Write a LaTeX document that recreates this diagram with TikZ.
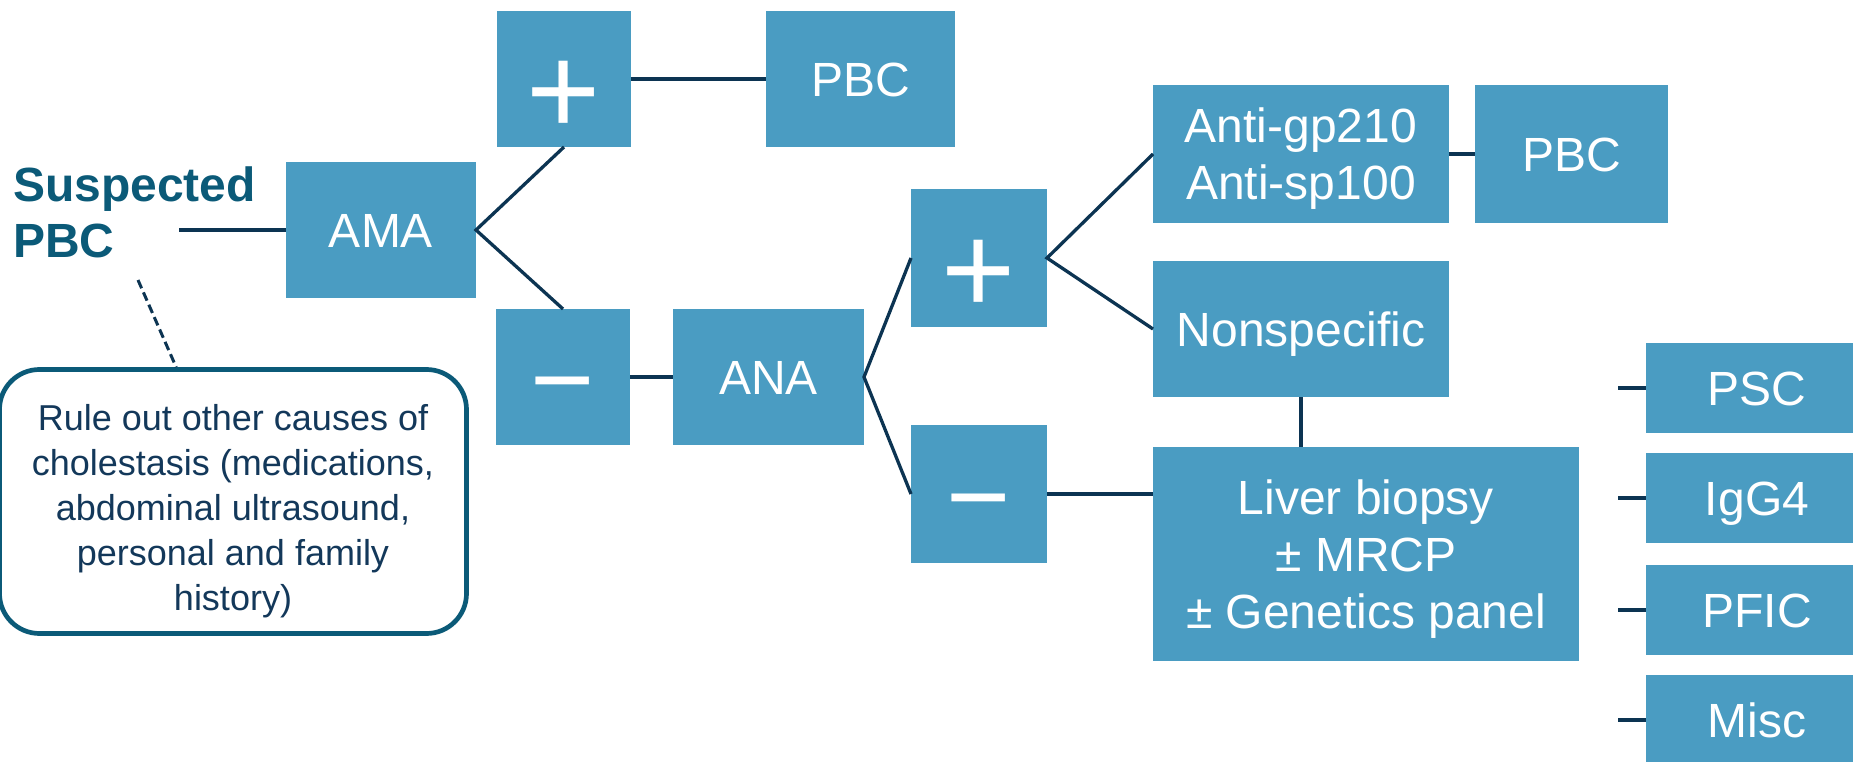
\documentclass[tikz,border=0pt]{standalone}
\usepackage{fontspec}
\setmainfont{Liberation Sans}
\usetikzlibrary{calc}
\definecolor{boxblue}{HTML}{4A9CC2}
\definecolor{linenavy}{HTML}{0C3452}
\definecolor{tealdark}{HTML}{0B5A78}
\definecolor{textnavy}{HTML}{13385A}
\begin{document}
\begin{tikzpicture}[x=1pt,y=-1pt,
  box/.style={fill=boxblue, draw=none, inner sep=0pt, outer sep=0pt, text=white,
    font=\fontsize{48}{57}\selectfont, align=center, text height=34.4pt, text depth=0pt},
  plusbox/.style={fill=boxblue, inner sep=0pt, outer sep=0pt, text=white,
    font=\fontsize{127}{127}\selectfont, text height=111.4pt, text depth=0pt},
  minusbox/.style={fill=boxblue, inner sep=0pt, outer sep=0pt, text=white,
    font=\fontsize{110}{110}\selectfont, text height=80pt, text depth=0pt},
  conn/.style={draw=linenavy, line width=3.3pt},
]
\useasboundingbox (0,0) rectangle (1853,762);

% boxes
\node[box, minimum width=190pt, minimum height=136pt] (ama) at (381,230) {AMA};
\node[plusbox, minimum width=134pt, minimum height=136pt] (plus1) at (564,79) {+};
\node[box, minimum width=189pt, minimum height=136pt] (pbc1) at (860.5,79) {PBC};
\node[minusbox, minimum width=134pt, minimum height=136pt] (minus1) at (563,377) {−};
\node[box, minimum width=191pt, minimum height=136pt] (ana) at (768.5,377) {ANA};
\node[plusbox, minimum width=136pt, minimum height=138pt] (plus2) at (979,258) {+};
\node[minusbox, minimum width=136pt, minimum height=138pt] (minus2) at (979,494) {−};
\node[box, minimum width=296pt, minimum height=138pt, text height=91.4pt] (anti) at (1301,154) {Anti-gp210\\Anti-sp100};
\node[box, minimum width=193pt, minimum height=138pt] (pbc2) at (1571.5,154) {PBC};
\node[box, minimum width=296pt, minimum height=136pt] (nonspec) at (1301,329) {Nonspecific};
\node[box, minimum width=426pt, minimum height=214pt, text height=148.4pt] (liver) at (1366,554) {Liver biopsy\\± MRCP\\± Genetics panel};
\node[box, minimum width=222pt, minimum height=90pt] (psc) at (1757,388) {PSC};
\node[box, minimum width=222pt, minimum height=90pt] (igg4) at (1757,498) {IgG4};
\node[box, minimum width=222pt, minimum height=90pt] (pfic) at (1757,610) {PFIC};
\node[box, minimum width=222pt, minimum height=90pt] (misc) at (1757,720) {Misc};

% left text
\node[text=tealdark, font=\bfseries\fontsize{48}{56}\selectfont, align=left, anchor=base west, inner sep=0pt] (susp) at (13,258) {Suspected\\PBC};
\node[draw=tealdark, line width=4.7pt, rounded corners=40pt, minimum width=467pt, minimum height=264pt, inner sep=0pt] (rule) at (233,501.5) {};
\node[text=textnavy, font=\fontsize{36}{45}\selectfont, align=center, anchor=base, inner sep=0pt] (ruletext) at (233,610) {Rule out other causes of\\cholestasis (medications,\\abdominal ultrasound,\\personal and family\\history)};

% free ends
\coordinate (sstart) at (179,230);
\coordinate (dstart) at (138,280);

% connectors
\draw[conn] (sstart) -- (ama.west);
\draw[conn] (plus1.south) -- (ama.east) -- (minus1.north);
\draw[conn] (plus1.east) -- (pbc1.west);
\draw[conn] (minus1.east) -- (ana.west);
\draw[conn] (plus2.west) -- (ana.east) -- (minus2.west);
\draw[conn] (anti.west) -- (plus2.east) -- (nonspec.west);
\draw[conn] (anti.east) -- (pbc2.west);
\draw[conn] (nonspec.south) -- (nonspec.south |- liver.north);
\draw[conn] (minus2.east) -- (minus2.east -| liver.west);
\draw[conn] ($(psc.west)+(-28,0)$) -- (psc.west);
\draw[conn] ($(igg4.west)+(-28,0)$) -- (igg4.west);
\draw[conn] ($(pfic.west)+(-28,0)$) -- (pfic.west);
\draw[conn] ($(misc.west)+(-28,0)$) -- (misc.west);
\draw[draw=linenavy, line width=3pt, dash pattern=on 9pt off 4.5pt] (dstart) -- ([xshift=179pt]rule.north west);
\end{tikzpicture}
\end{document}
